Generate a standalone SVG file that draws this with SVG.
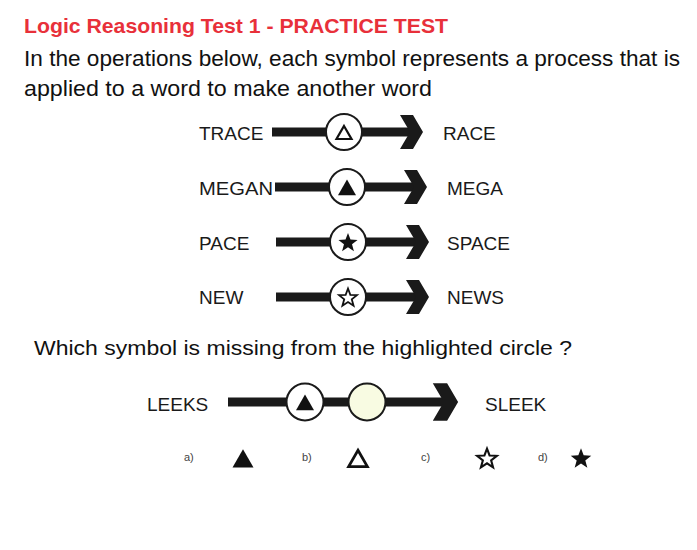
<svg xmlns="http://www.w3.org/2000/svg" xmlns:xlink="http://www.w3.org/1999/xlink" width="697" height="550" viewBox="0 0 697 550">
<style>
.title{font-family:"Liberation Sans",Arial,sans-serif;font-weight:bold;font-size:21px;fill:#e8303a}
.body{font-family:"Liberation Sans",Arial,sans-serif;font-size:22px;fill:#111}
.word{font-family:"Liberation Sans",Arial,sans-serif;font-size:19px;fill:#1a1a1a}
.opt{font-family:"Liberation Sans",Arial,sans-serif;font-size:11px;fill:#444}
.shaft{stroke:#1a1a1a;stroke-width:9;fill:none}
.head{fill:#1a1a1a}
.ring{fill:#fff;stroke:#1a1a1a;stroke-width:2}
.solid{fill:#111}
.hollow{fill:none;stroke:#111;stroke-width:2.2;stroke-linejoin:miter}
</style>
<defs>
<path id="chev" d="M-22,-17 L-9,-17 L1,0 L-9,17 L-22,17 L-12,0 Z"/>
<path id="tri" d="M0,-7 L7.5,6 L-7.5,6 Z"/>
<path id="star" d="M0,-9 L2.22,-3.06 L8.56,-2.78 L3.59,1.17 L5.29,7.28 L0,3.78 L-5.29,7.28 L-3.59,1.17 L-8.56,-2.78 L-2.22,-3.06 Z"/>
</defs>
<rect width="697" height="550" fill="#fff"/>

<g id="heading">
<text class="title" x="24" y="33" textLength="424" lengthAdjust="spacingAndGlyphs">Logic Reasoning Test 1 - PRACTICE TEST</text>
<text class="body" x="24" y="66" textLength="656" lengthAdjust="spacingAndGlyphs">In the operations below, each symbol represents a process that is</text>
<text class="body" x="24" y="96" textLength="408" lengthAdjust="spacingAndGlyphs">applied to a word to make another word</text>
<text class="body" x="34" y="355" textLength="538" lengthAdjust="spacingAndGlyphs" style="font-size:21px">Which symbol is missing from the highlighted circle ?</text>
</g>

<g id="connectors">
<line class="shaft" x1="272" y1="132" x2="412" y2="132"/>
<use href="#chev" xlink:href="#chev" class="head" transform="translate(422,132)"/>
<line class="shaft" x1="275" y1="187" x2="416" y2="187"/>
<use href="#chev" xlink:href="#chev" class="head" transform="translate(426,187)"/>
<line class="shaft" x1="276" y1="242" x2="418" y2="242"/>
<use href="#chev" xlink:href="#chev" class="head" transform="translate(428,242)"/>
<line class="shaft" x1="276" y1="297" x2="418" y2="297"/>
<use href="#chev" xlink:href="#chev" class="head" transform="translate(428,297)"/>
<line class="shaft" x1="228" y1="402" x2="446" y2="402"/>
<use href="#chev" xlink:href="#chev" class="head" transform="translate(457,402) scale(1.1)"/>
</g>

<g id="trace">
<text class="word" x="199" y="140">TRACE</text>
<text class="word" x="443" y="140">RACE</text>
<circle class="ring" cx="344" cy="132" r="18"/>
<use href="#tri" xlink:href="#tri" class="hollow" transform="translate(344,133)"/>
</g>

<g id="megan">
<text class="word" x="199" y="195" textLength="74" lengthAdjust="spacingAndGlyphs">MEGAN</text>
<text class="word" x="447" y="195">MEGA</text>
<circle class="ring" cx="347" cy="187" r="18"/>
<use href="#tri" xlink:href="#tri" class="solid" transform="translate(347,188) scale(1.2)"/>
</g>

<g id="pace">
<text class="word" x="199" y="250">PACE</text>
<text class="word" x="447" y="250">SPACE</text>
<circle class="ring" cx="348" cy="242" r="18"/>
<use href="#star" xlink:href="#star" class="solid" transform="translate(348,243) scale(1.12)"/>
</g>

<g id="new">
<text class="word" x="199" y="304">NEW</text>
<text class="word" x="447" y="304">NEWS</text>
<circle class="ring" cx="348" cy="297" r="18"/>
<use href="#star" xlink:href="#star" class="hollow" style="stroke-width:1.7" transform="translate(348,298) scale(1.05)"/>
</g>

<g id="leeks">
<text class="word" x="147" y="411">LEEKS</text>
<text class="word" x="485" y="411">SLEEK</text>
<circle class="ring" cx="305" cy="402" r="18.5"/>
<use href="#tri" xlink:href="#tri" class="solid" transform="translate(305,403) scale(1.2)"/>
<circle class="ring" cx="367" cy="402" r="18.5" style="fill:#f8fbe2"/>
</g>

<g id="options">
<text class="opt" x="184" y="461">a)</text>
<use href="#tri" xlink:href="#tri" class="solid" transform="translate(243,459) scale(1.4)"/>
<text class="opt" x="302" y="461">b)</text>
<use href="#tri" xlink:href="#tri" class="hollow" transform="translate(358,459) scale(1.25)"/>
<text class="opt" x="421" y="461">c)</text>
<use href="#star" xlink:href="#star" class="hollow" style="stroke-width:1.8" transform="translate(487,459) scale(1.15)"/>
<text class="opt" x="538" y="461">d)</text>
<use href="#star" xlink:href="#star" class="solid" transform="translate(581,459) scale(1.2)"/>
</g>
</svg>
